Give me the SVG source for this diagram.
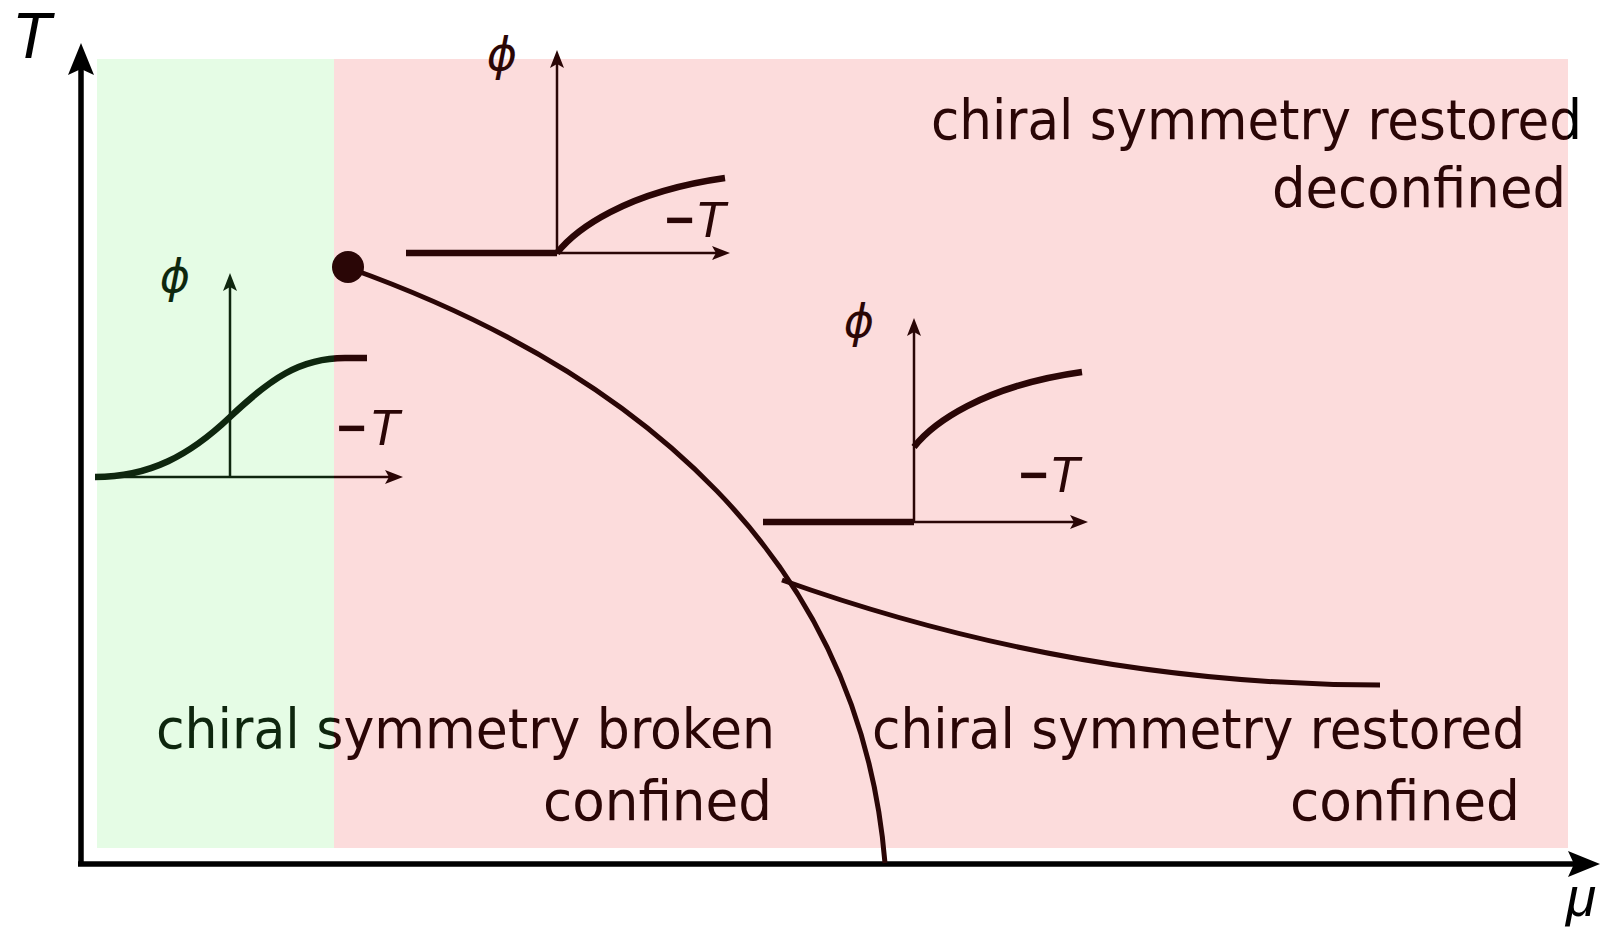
<svg xmlns="http://www.w3.org/2000/svg" width="1613" height="938" viewBox="0 0 1613 938">
  <style>
    .lbl { font-family: 'DejaVu Sans', 'Noto Sans', sans-serif; font-stretch: condensed; font-size: 56px; fill: url(#ink); }
    .ax { stroke: #000; stroke-width: 5.5; fill: none; }
    .iax { stroke: url(#ink); stroke-width: 2.5; fill: none; }
    .thick { stroke: url(#ink); stroke-width: 6.5; fill: none; }
    .bnd { stroke: url(#ink); stroke-width: 5; fill: none; }
    .phi { font-family: 'DejaVu Sans', 'Liberation Sans', sans-serif; font-style: italic; font-size: 46px; fill: url(#ink); text-anchor: middle; }
    .mt { font-family: 'Liberation Sans', 'Arial', sans-serif; font-size: 50px; fill: url(#ink); }
  </style>
  <defs>
    <linearGradient id="ink" gradientUnits="userSpaceOnUse" x1="0" y1="0" x2="1613" y2="0">
      <stop offset="0" stop-color="#0e260e"/>
      <stop offset="0.2071" stop-color="#0e260e"/>
      <stop offset="0.2071" stop-color="#2a0606"/>
      <stop offset="0.972" stop-color="#2a0606"/>
      <stop offset="0.972" stop-color="#000"/>
      <stop offset="1" stop-color="#000"/>
    </linearGradient>
    <marker id="bigArrow" markerUnits="userSpaceOnUse" markerWidth="34" markerHeight="30" refX="6" refY="0" viewBox="0 -15 34 30" orient="auto" overflow="visible">
      <path d="M0,-13 L32,0 L0,13 L6,0 Z" fill="#000"/>
    </marker>
    <marker id="arrowG" markerUnits="userSpaceOnUse" markerWidth="20" markerHeight="16" refX="4" refY="0" viewBox="0 -8 20 16" orient="auto" overflow="visible">
      <path d="M0,-7 L18,0 L0,7 L4,0 Z" fill="#0e260e"/>
    </marker>
    <marker id="arrowR" markerUnits="userSpaceOnUse" markerWidth="20" markerHeight="16" refX="4" refY="0" viewBox="0 -8 20 16" orient="auto" overflow="visible">
      <path d="M0,-7 L18,0 L0,7 L4,0 Z" fill="#2a0606"/>
    </marker>
  </defs>

  <rect width="1613" height="938" fill="#fff"/>

  <g id="regions">
    <rect id="crossover-region" x="97" y="59" width="237" height="789" fill="#e5fce5"/>
    <rect id="first-order-region" x="334" y="59" width="1234" height="789" fill="#fcdcdc"/>
  </g>

  <g id="axes">
    <line class="ax" x1="81" y1="866" x2="81" y2="69" marker-end="url(#bigArrow)"/>
    <line class="ax" x1="78" y1="864" x2="1574" y2="864" marker-end="url(#bigArrow)"/>
    <text x="12" y="58" font-family="'Liberation Sans', Arial, sans-serif" font-style="italic" font-size="64">T</text>
    <text x="1566" y="916" font-family="'Liberation Sans', Arial, sans-serif" font-style="italic" font-size="55">μ</text>
  </g>

  <g id="phase-boundaries">
    <path class="bnd" d="M349,268 C640,372 860,560 885,863"/>
    <path class="bnd" d="M782,580 C950,640 1150,685 1380,685"/>
    <circle id="critical-point" cx="348" cy="267" r="16" fill="#2a0606"/>
  </g>

  <g id="inset-crossover">
    <line x1="230" y1="477" x2="230" y2="287" stroke="#0e260e" stroke-width="2.5" marker-end="url(#arrowG)"/>
    <line class="iax" x1="95" y1="477" x2="389" y2="477" marker-end="url(#arrowR)"/>
    <path class="thick" d="M95,477 C150,477 190,455 230,417 S300,358 345,358 L367,358"/>
    <text class="phi" x="175" y="292">ϕ</text>
    <text class="mt" x="337" y="445"><tspan font-weight="bold">−</tspan><tspan x="369" font-style="italic">T</tspan></text>
  </g>

  <g id="inset-first-order-upper">
    <line class="iax" x1="557" y1="253" x2="557" y2="64" marker-end="url(#arrowR)"/>
    <line class="iax" x1="406" y1="253" x2="716" y2="253" marker-end="url(#arrowR)"/>
    <line class="thick" x1="406" y1="253" x2="557" y2="253"/>
    <path class="thick" d="M557,253 C575,230 625,192 725,178"/>
    <text class="phi" x="502" y="70">ϕ</text>
    <text class="mt" x="665" y="237"><tspan font-weight="bold">−</tspan><tspan x="695" font-style="italic">T</tspan></text>
  </g>

  <g id="inset-first-order-lower">
    <line class="iax" x1="914" y1="522" x2="914" y2="332" marker-end="url(#arrowR)"/>
    <line class="iax" x1="763" y1="522" x2="1074" y2="522" marker-end="url(#arrowR)"/>
    <line class="thick" x1="763" y1="522" x2="914" y2="522"/>
    <path class="thick" d="M914,447 C932,424 982,386 1082,372"/>
    <text class="phi" x="859" y="337">ϕ</text>
    <text class="mt" x="1019" y="492"><tspan font-weight="bold">−</tspan><tspan x="1049" font-style="italic">T</tspan></text>
  </g>

  <g id="region-labels">
    <text class="lbl" x="1582" y="139" text-anchor="end" textLength="651" lengthAdjust="spacingAndGlyphs">chiral symmetry restored</text>
    <text class="lbl" x="1566" y="207" text-anchor="end" textLength="294" lengthAdjust="spacingAndGlyphs">deconfined</text>
    <text class="lbl" x="775" y="748" text-anchor="end" textLength="619" lengthAdjust="spacingAndGlyphs">chiral symmetry broken</text>
    <text class="lbl" x="772" y="820" text-anchor="end" textLength="229" lengthAdjust="spacingAndGlyphs">confined</text>
    <text class="lbl" x="1525" y="748" text-anchor="end" textLength="653" lengthAdjust="spacingAndGlyphs">chiral symmetry restored</text>
    <text class="lbl" x="1520" y="820" text-anchor="end" textLength="230" lengthAdjust="spacingAndGlyphs">confined</text>
  </g>
</svg>
